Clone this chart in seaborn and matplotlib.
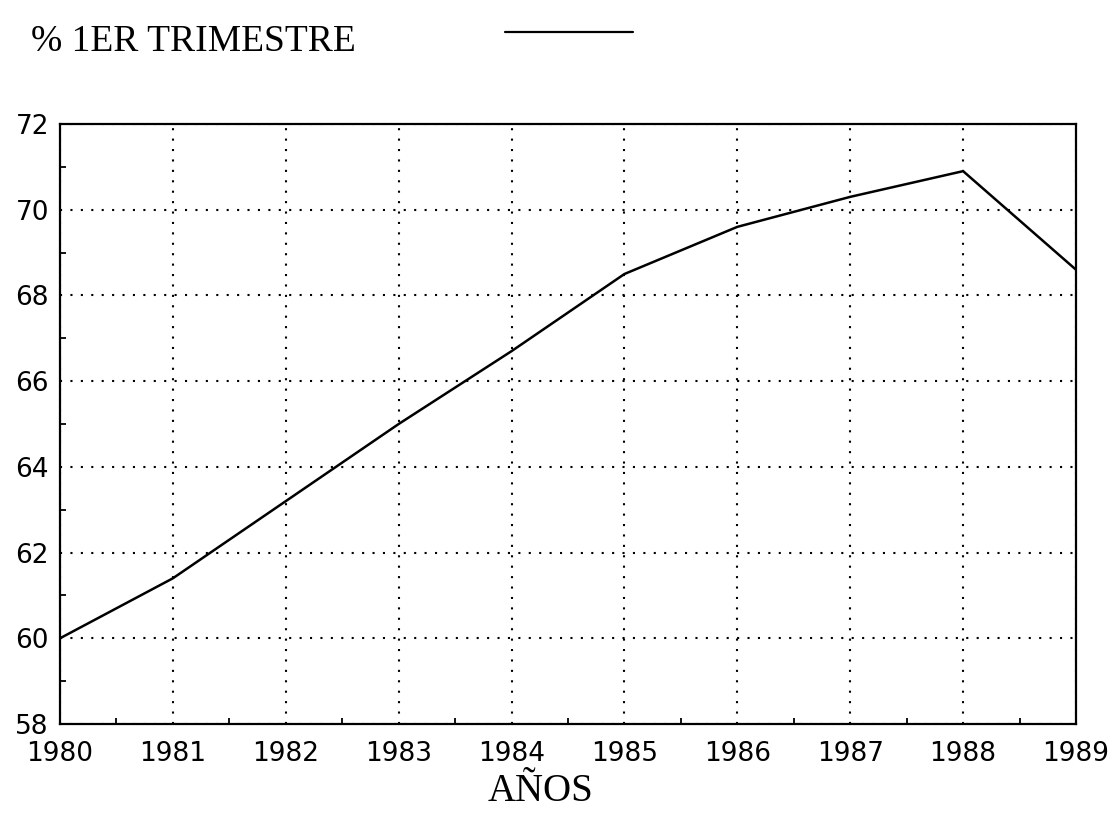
import matplotlib
matplotlib.use('Agg')
import matplotlib.pyplot as plt
import seaborn as sns
from matplotlib.lines import Line2D
from matplotlib.ticker import MultipleLocator

# Data
years = [1980, 1981, 1982, 1983, 1984, 1985, 1986, 1987, 1988, 1989]
pct_first_quarter = [60.0, 61.4, 63.2, 65.0, 66.7, 68.5, 69.6, 70.3, 70.9, 68.6]
series_label = '% 1ER TRIMESTRE'
x_title = 'AÑOS'

sns.set_theme(style='white')
plt.rcParams['font.family'] = ['DejaVu Sans']
plt.rcParams['text.color'] = 'black'

fig = plt.figure(figsize=(11.15, 8.24), dpi=100)
ax = fig.add_axes([60 / 1115, 1 - 724 / 824, 1016 / 1115, 600 / 824])

sns.lineplot(x=years, y=pct_first_quarter, color='black', linewidth=1.8,
             legend=False, ax=ax)

ax.set_xlim(1980, 1989)
ax.set_ylim(58, 72)
ax.set_xticks(years)
ax.set_xticklabels([str(y) for y in years])
ax.yaxis.set_major_locator(MultipleLocator(2))
ax.xaxis.set_minor_locator(MultipleLocator(0.5))
ax.yaxis.set_minor_locator(MultipleLocator(1))

# dotted grid on the major ticks
ax.grid(True, which='major', color='black', linestyle=(0, (1, 4)), linewidth=1.5)
ax.tick_params(which='major', direction='in', length=7, width=1.3, colors='black',
               labelsize=19, top=False, right=False)
ax.tick_params(axis='x', which='major', pad=12)
ax.tick_params(axis='y', which='major', pad=8)
ax.tick_params(which='minor', direction='in', length=4, width=1.3, colors='black',
               top=False, right=False, bottom=True, left=True)

for s in ax.spines.values():
    s.set_color('black')
    s.set_linewidth(1.6)

ax.set_xlabel(x_title, family='Liberation Serif', fontsize=28, color='black')
ax.xaxis.set_label_coords((541 - 60) / 1016, -0.082)
ax.set_ylabel('')

# key at the top: label on the left, line sample on the right
fig.text(31 / 1115, 1 - 42 / 824, series_label, family='Liberation Serif',
         fontsize=27, color='black', ha='left', va='center')
fig.add_artist(Line2D([505 / 1115, 633 / 1115], [1 - 32 / 824, 1 - 32 / 824],
                      transform=fig.transFigure, color='black', linewidth=1.6))

fig.savefig('out.png', dpi=100, facecolor='white')
